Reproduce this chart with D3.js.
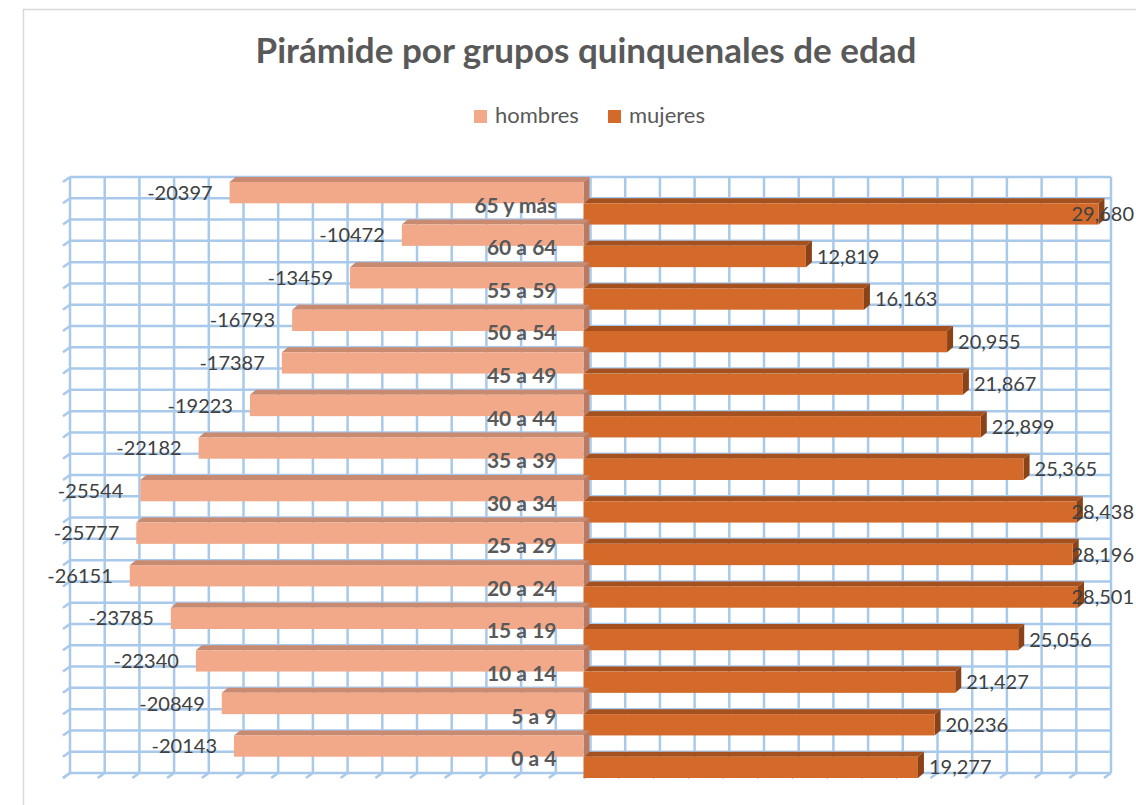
<!DOCTYPE html>
<html>
<head>
<meta charset="utf-8">
<script src="https://cdn.jsdelivr.net/npm/d3@7"></script>
<style>
  body { margin: 0; background: #fff; }
  text { font-family: Lato, "Open Sans", sans-serif; }
</style>
</head>
<body>
<div id="container"></div>
<script>
const categories = ['65 y más', '60 a 64', '55 a 59', '50 a 54', '45 a 49', '40 a 44', '35 a 39',
  '30 a 34', '25 a 29', '20 a 24', '15 a 19', '10 a 14', '5 a 9', '0 a 4']
const hombres = [-20397, -10472, -13459, -16793, -17387, -19223, -22182, -25544, -25777, -26151, -23785, -22340, -20849, -20143]
const mujeres = [29680, 12819, 16163, 20955, 21867, 22899, 25365, 28438, 28196, 28501, 25056, 21427, 20236, 19277]
const seriesNames = ['hombres', 'mujeres']
const valueTicks = d3.range(-30000, 30001, 2000)

const width = 1136
const height = 805
// offset of the back wall vs. the front plane (fake 3d)
const wallDx = 7, wallDy = 5
const barDx = 6, barDy = 5

const colors = {
  hombres: { front: '#f2a98a', top: '#c98a72', side: '#b87a63' },
  mujeres: { front: '#d36a2a', top: '#a4511f', side: '#8a4318' }
}

const svg = d3.select('#container')
  .append('svg')
  .attr('width', width)
  .attr('height', height)

// chart area border
svg.append('path')
  .attr('d', 'M23.5,810 V9.5 H1140')
  .attr('fill', 'none')
  .attr('stroke', '#d9d9d9')
  .attr('stroke-width', 1.5)

svg.append('text')
  .attr('x', 586)
  .attr('y', 54)
  .attr('text-anchor', 'middle')
  .attr('dominant-baseline', 'middle')
  .style('font-size', '35px')
  .style('font-weight', 'bold')
  .style('fill', '#595959')
  .text('Pirámide por grupos quinquenales de edad')

// legend
const legend = svg.append('g')
const legendX = { hombres: 474, mujeres: 608 }
seriesNames.forEach(s => {
  legend.append('rect')
    .attr('x', legendX[s]).attr('y', 110)
    .attr('width', 13).attr('height', 13)
    .attr('fill', colors[s].front)
  legend.append('text')
    .attr('x', legendX[s] + 21).attr('y', 117)
    .attr('dominant-baseline', 'middle')
    .style('font-size', '22px')
    .style('fill', '#595959')
    .text(s)
})

const x = d3.scaleLinear().domain([-30000, 30000]).range([63, 1104])
const y = d3.scaleBand().domain(categories).range([182, 778])
const sub = d3.scaleBand().domain(seriesNames).range([0, y.bandwidth()])

// back wall grid
const grid = svg.append('g')
  .attr('stroke', '#a9c9ea')
  .attr('stroke-width', 2.5)
  .attr('fill', 'none')

const halfRows = d3.range(categories.length * 2 + 1)
const wallTop = y.range()[0] - wallDy
const wallBottom = y.range()[1] - wallDy
const rowY = d3.scaleLinear().domain([0, categories.length * 2]).range([wallTop, wallBottom])

grid.selectAll('.hline')
  .data(halfRows)
  .enter().append('line')
  .attr('x1', x(-30000) + wallDx).attr('x2', x(30000) + wallDx)
  .attr('y1', d => rowY(d)).attr('y2', d => rowY(d))

grid.selectAll('.htick')
  .data(halfRows)
  .enter().append('line')
  .attr('x1', x(-30000) + wallDx).attr('x2', x(-30000))
  .attr('y1', d => rowY(d)).attr('y2', d => rowY(d) + wallDy)

grid.selectAll('.vline')
  .data(valueTicks)
  .enter().append('line')
  .attr('x1', d => x(d) + wallDx).attr('x2', d => x(d) + wallDx)
  .attr('y1', wallTop).attr('y2', wallBottom)

grid.selectAll('.vtick')
  .data(valueTicks)
  .enter().append('line')
  .attr('x1', d => x(d) + wallDx).attr('x2', d => x(d))
  .attr('y1', wallBottom).attr('y2', wallBottom + wallDy)

// bars, drawn row by row from the back (top) to the front (bottom)
const rows = categories.map((c, i) => ({ cat: c, hombres: hombres[i], mujeres: mujeres[i] }))

function box(g, x0, x1, top, bottom, col) {
  g.append('path')
    .attr('d', `M${x0},${top} L${x0 + barDx},${top - barDy} L${x1 + barDx},${top - barDy} L${x1},${top} Z`)
    .attr('fill', col.top)
  g.append('path')
    .attr('d', `M${x1},${top} L${x1 + barDx},${top - barDy} L${x1 + barDx},${bottom - barDy} L${x1},${bottom} Z`)
    .attr('fill', col.side)
  g.append('rect')
    .attr('x', x0).attr('y', top)
    .attr('width', x1 - x0).attr('height', bottom - top)
    .attr('fill', col.front)
}

const bars = svg.append('g')
rows.forEach(d => {
  const g = bars.append('g')
  const hTop = y(d.cat) + sub('hombres')
  const mTop = y(d.cat) + sub('mujeres')
  box(g, x(d.hombres), x(0), hTop, hTop + sub.bandwidth(), colors.hombres)
  box(g, x(0), x(d.mujeres), mTop, mTop + sub.bandwidth(), colors.mujeres)
})

// category labels
svg.append('g').selectAll('text')
  .data(rows)
  .enter().append('text')
  .attr('x', x(0) - 27)
  .attr('y', d => y(d.cat) + sub('mujeres') + 4)
  .attr('text-anchor', 'end')
  .attr('dominant-baseline', 'middle')
  .style('font-size', '21px')
  .style('font-weight', 'bold')
  .style('fill', '#595959')
  .text(d => d.cat)

// data labels
svg.append('g').selectAll('text')
  .data(rows)
  .enter().append('text')
  .attr('x', d => x(d.hombres) - 17)
  .attr('y', d => y(d.cat) + sub('hombres') + sub.bandwidth() / 2 + 2)
  .attr('text-anchor', 'end')
  .attr('dominant-baseline', 'middle')
  .style('font-size', '20px')
  .style('fill', '#404040')
  .text(d => d.hombres)

// mujeres labels sit past the bar end, pushed back inside the chart when too long
svg.append('g').selectAll('text')
  .data(rows)
  .enter().append('text')
  .attr('y', d => y(d.cat) + sub('mujeres') + sub.bandwidth() / 2 + 2)
  .attr('dominant-baseline', 'middle')
  .style('font-size', '20px')
  .style('fill', '#404040')
  .text(d => d3.format(',')(d.mujeres))
  .attr('x', function (d) {
    const w = this.getComputedTextLength()
    return Math.min(x(d.mujeres) + 11, width - 2 - w)
  })
</script>
</body>
</html>
